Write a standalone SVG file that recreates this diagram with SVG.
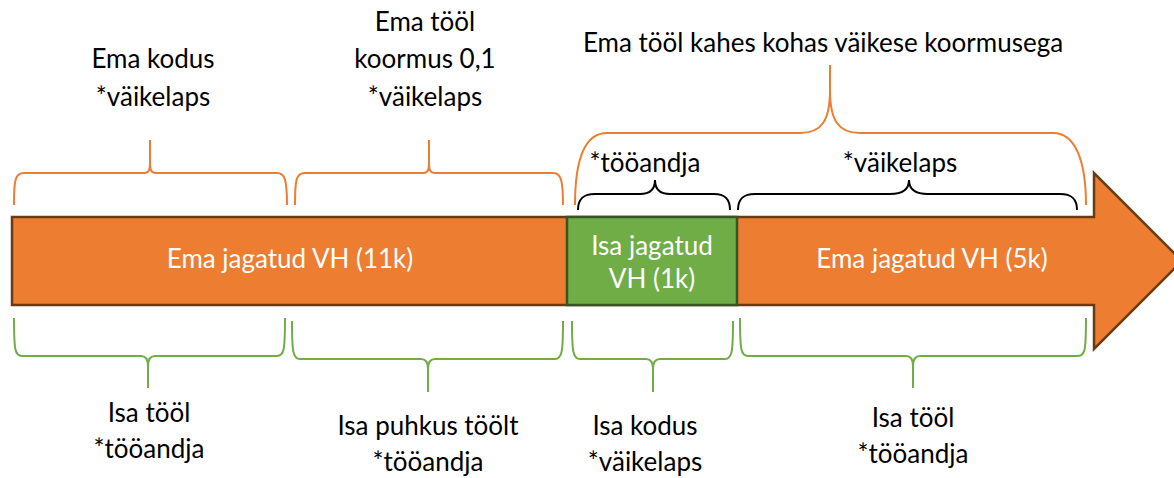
<svg xmlns="http://www.w3.org/2000/svg" width="1174" height="478" viewBox="0 0 1174 478">
<style>
text{font-family:Lato,"Liberation Sans",sans-serif;font-size:26px;text-anchor:middle;fill:#000}
.w{fill:#fff}
.bo{fill:none;stroke:#ED7D31;stroke-width:2}
.bg{fill:none;stroke:#70AD47;stroke-width:2}
.bk{fill:none;stroke:#000;stroke-width:2}
</style>
<rect width="1174" height="478" fill="#fff"/>
<g id="arrow">
<path d="M12 217 H1094 V173 L1182 261 L1094 349 V305 H12 Z" fill="#ED7D31" stroke="#6B3A12" stroke-width="2.5"/>
<text class="w" x="290" y="268">Ema jagatud VH (11k)</text>
<text class="w" x="932" y="268">Ema jagatud VH (5k)</text>
</g>
<g id="isa-vh">
<rect x="567" y="217" width="170" height="88" fill="#70AD47" stroke="#375623" stroke-width="2.5"/>
<text class="w" x="652" y="255">Isa jagatud</text>
<text class="w" x="652" y="288">VH (1k)</text>
</g>
<g id="connectors">
<path class="bo" d="M14 205 C14 180 15 173 24 173 H144 C149 173 150 170 150 162 V140 V162 C150 170 151 173 156 173 H277 C285 173 287 180 287 205"/>
<path class="bo" d="M295 205 C295 180 296 173 305 173 H423 C428 173 429 170 429 162 V140 V162 C429 170 430 173 435 173 H553 C561 173 563 180 563 205"/>
<path class="bo" d="M575 205 C575 160 585 133 607 133 H800 C822 133 830 120 830 90 V65 V90 C830 120 838 133 860 133 H1053 C1075 133 1086 160 1086 205"/>
<path class="bk" d="M578 210 C578 198 584 194 595 194 H640 C650 194 655 190 655 180 C655 190 660 194 670 194 H714 C724 194 730 198 730 210"/>
<path class="bk" d="M738 210 C738 198 744 194 755 194 H890 C902 194 909 190 909 180 C909 190 916 194 928 194 H1060 C1071 194 1077 198 1077 210"/>
<path class="bg" d="M14 318 C14 350 15 356 22 356 H141 C146 356 148 360 148 366 V388 V366 C148 360 150 356 155 356 H277 C284 356 285 350 285 318"/>
<path class="bg" d="M292 321 C292 352 293 359 300 359 H421 C426 359 428 363 428 369 V392 V369 C428 363 430 359 435 359 H555 C562 359 563 352 563 321"/>
<path class="bg" d="M572 321 C572 352 573 359 580 359 H646 C651 359 653 363 653 369 V392 V369 C653 363 655 359 660 359 H725 C732 359 733 352 733 321"/>
<path class="bg" d="M740 318 C740 350 741 356 748 356 H906 C911 356 913 360 913 366 V388 V366 C913 360 915 356 920 356 H1078 C1085 356 1086 350 1086 318"/>
</g>
<g id="top-labels">
<text x="153" y="68">Ema kodus</text>
<text x="153" y="106">*väikelaps</text>
<text x="425" y="31">Ema tööl</text>
<text x="425" y="68">koormus 0,1</text>
<text x="425" y="106">*väikelaps</text>
<text x="823" y="52">Ema tööl kahes kohas väikese koormusega</text>
<text x="645" y="172">*tööandja</text>
<text x="900" y="172">*väikelaps</text>
</g>
<g id="bottom-labels">
<text x="149" y="422">Isa tööl</text>
<text x="149" y="458">*tööandja</text>
<text x="428" y="435">Isa puhkus töölt</text>
<text x="428" y="471">*tööandja</text>
<text x="645" y="435">Isa kodus</text>
<text x="645" y="471">*väikelaps</text>
<text x="913" y="427">Isa tööl</text>
<text x="913" y="463">*tööandja</text>
</g>
</svg>
